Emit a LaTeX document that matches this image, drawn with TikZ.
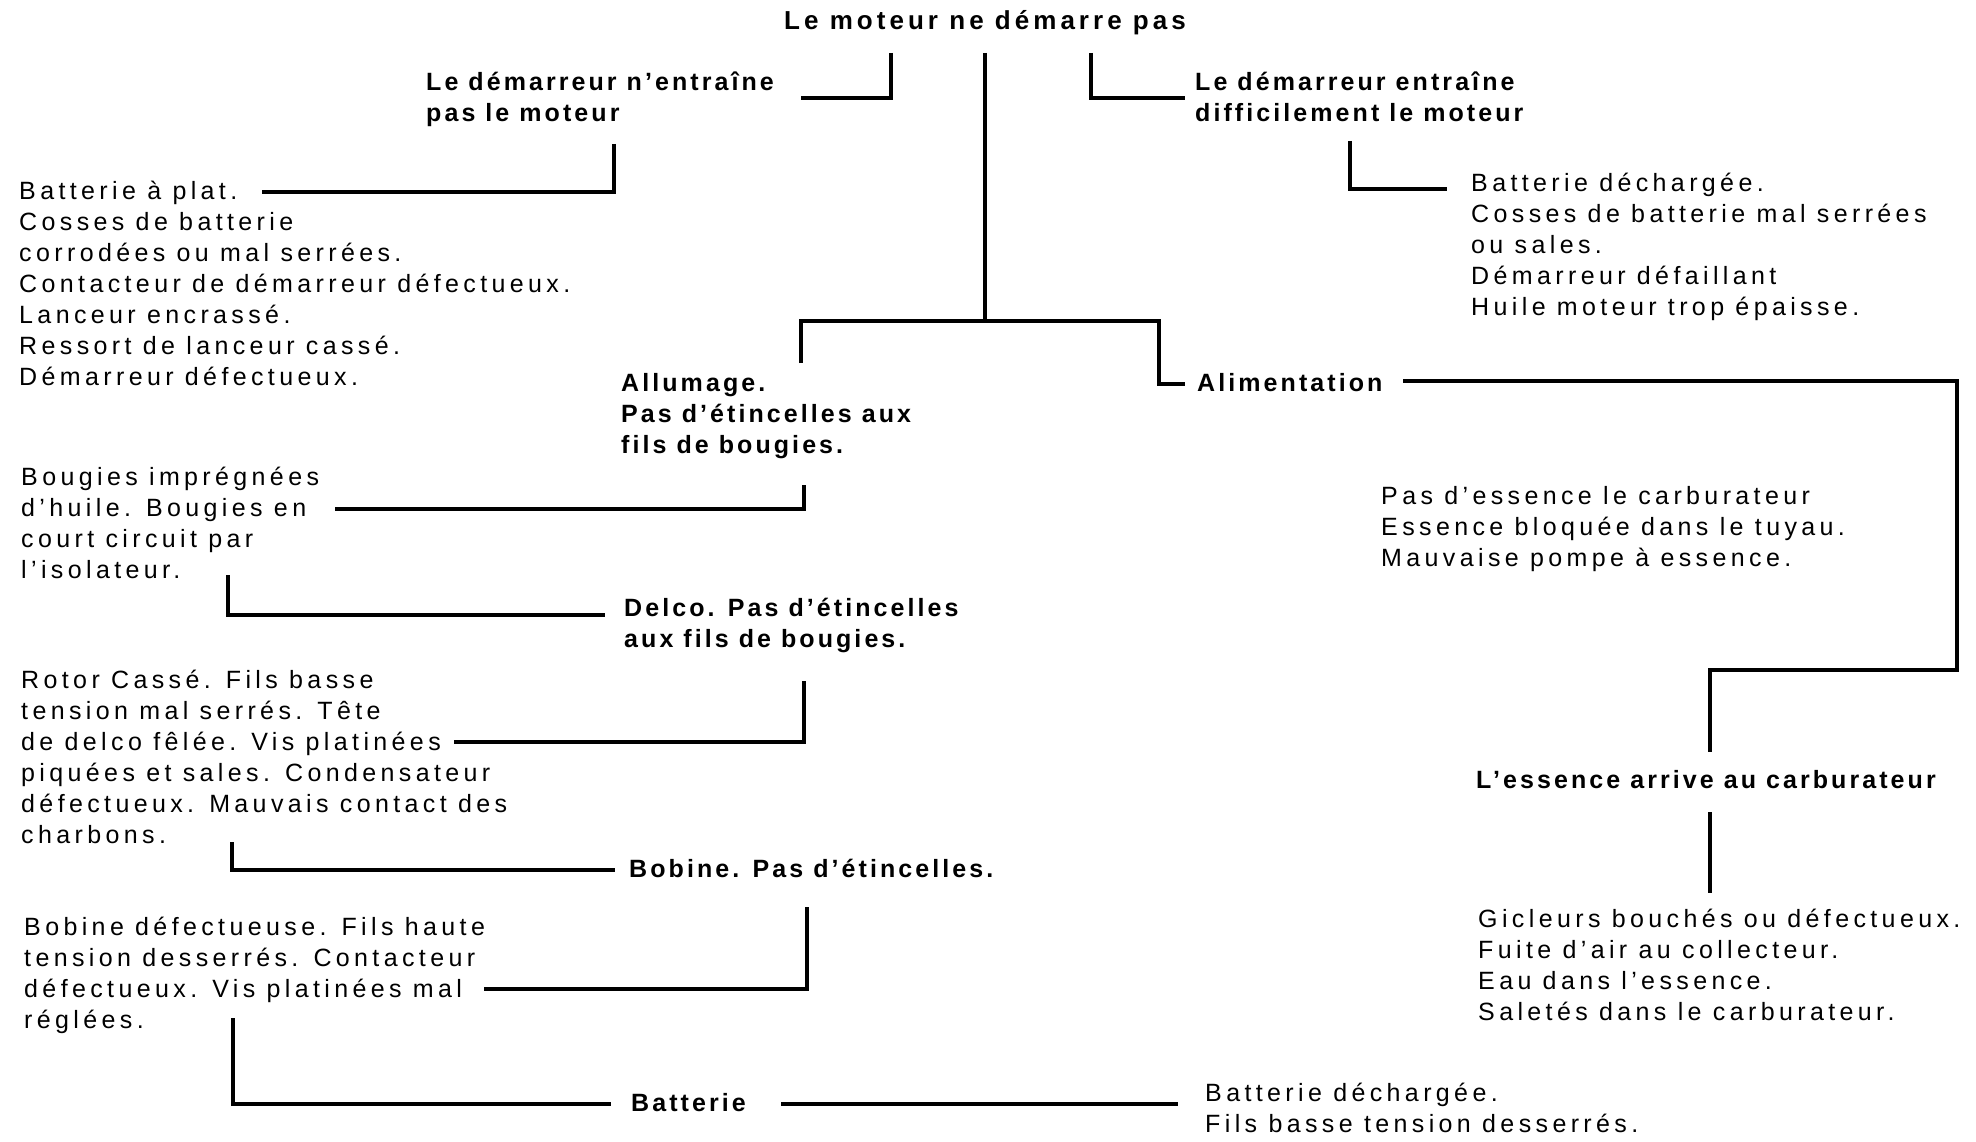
\documentclass[tikz,border=0pt]{standalone}
\usepackage{fontspec}
\setmainfont{Liberation Sans}[LetterSpace=17.5]
\newfontfamily\bdfont{Liberation Sans}[LetterSpace=12.3]
\newfontfamily\ttlfont{Liberation Sans}[LetterSpace=15.5]
\newcommand{\blk}[1]{\begin{tabular}[t]{@{}l@{}}#1\end{tabular}}
\begin{document}
\begin{tikzpicture}[x=1pt,y=-1pt,
  txt/.style={inner sep=0pt, anchor=base west, font=\fontsize{25}{31}\selectfont},
  bld/.style={inner sep=0pt, anchor=base west, font=\fontsize{25}{31}\selectfont\bdfont\bfseries},
  ttl/.style={inner sep=0pt, anchor=base west, font=\fontsize{26}{31}\selectfont\ttlfont\bfseries},
  wire/.style={line width=3.5pt, line cap=butt, line join=miter}]
\useasboundingbox (0,0) rectangle (1976,1142);
\fill[white] (0,0) rectangle (1976,1142);

% texts
\node[ttl] (title) at (784,30) {Le moteur ne démarre pas};
\node[bld] (nent) at (426,91) {\blk{Le démarreur n’entraîne\\pas le moteur}};
\node[bld] (diff) at (1195,91) {\blk{Le démarreur entraîne\\difficilement le moteur}};
\node[txt] (list1) at (19,200) {\blk{Batterie à plat.\\Cosses de batterie\\corrodées ou mal serrées.\\Contacteur de démarreur défectueux.\\Lanceur encrassé.\\Ressort de lanceur cassé.\\Démarreur défectueux.}};
\node[txt] (list2) at (1471,192) {\blk{Batterie déchargée.\\Cosses de batterie mal serrées\\ou sales.\\Démarreur défaillant\\Huile moteur trop épaisse.}};
\node[bld] (allum) at (621,391) {\blk{Allumage.\\Pas d’étincelles aux\\fils de bougies.}};
\node[bld] (alim) at (1197,391) {Alimentation};
\node[txt] (boug) at (21,485) {\blk{Bougies imprégnées\\d'huile. Bougies en\\court circuit par\\l'isolateur.}};
\node[bld] (delco) at (624,616) {\blk{Delco. Pas d’étincelles\\aux fils de bougies.}};
\node[txt] (rotor) at (21,688) {\blk{Rotor Cassé. Fils basse\\tension mal serrés. Tête\\de delco fêlée. Vis platinées\\piquées et sales. Condensateur\\défectueux. Mauvais contact des\\charbons.}};
\node[bld] (bob) at (629,877) {Bobine. Pas d’étincelles.};
\node[txt] (bobd) at (24,935) {\blk{Bobine défectueuse. Fils haute\\tension desserrés. Contacteur\\défectueux. Vis platinées mal\\réglées.}};
\node[bld] (batt) at (631,1111) {Batterie};
\node[txt] (battd) at (1205,1101) {\blk{Batterie déchargée.\\Fils basse tension desserrés.}};
\node[txt] (ess) at (1381,504) {\blk{Pas d'essence le carburateur\\Essence bloquée dans le tuyau.\\Mauvaise pompe à essence.}};
\node[bld] (arr) at (1476,788) {L’essence arrive au carburateur};
\node[txt] (gic) at (1478,927) {\blk{Gicleurs bouchés ou défectueux.\\Fuite d'air au collecteur.\\Eau dans l'essence.\\Saletés dans le carburateur.}};

% connector end points
\coordinate (m1) at (985,53);
\coordinate (m2) at (985,321);
\coordinate (aT) at (801,363);
\coordinate (jR) at (1159,321);
\coordinate (aL) at (1185,384);
\coordinate (n1) at (891,53);
\coordinate (n2) at (801,98);
\coordinate (d1) at (1091,53);
\coordinate (d2) at (1185,98);
\coordinate (l1) at (614,144);
\coordinate (l2) at (262,192);
\coordinate (r1) at (1350,141);
\coordinate (r2) at (1447,189);
\coordinate (p1) at (1403,381);
\coordinate (p2) at (1957,670);
\coordinate (p3) at (1710,752);
\coordinate (q1) at (1710,812);
\coordinate (q2) at (1710,893);
\coordinate (b1) at (804,485);
\coordinate (b2) at (335,509);
\coordinate (i1) at (228,575);
\coordinate (i2) at (605,615);
\coordinate (e1) at (804,681);
\coordinate (e2) at (454,742);
\coordinate (c1) at (232,842);
\coordinate (c2) at (615,870);
\coordinate (f1) at (807,907);
\coordinate (f2) at (484,989);
\coordinate (g1) at (233,1018);
\coordinate (g2) at (611,1104);
\coordinate (h1) at (781,1104);
\coordinate (h2) at (1178,1104);

% connectors
\draw[wire] (m1) -- (m2);
\draw[wire] (aT) |- (jR) |- (aL);
\draw[wire] (n1) |- (n2);
\draw[wire] (d1) |- (d2);
\draw[wire] (l1) |- (l2);
\draw[wire] (r1) |- (r2);
\draw[wire] (p1) -| (p2) -| (p3);
\draw[wire] (q1) -- (q2);
\draw[wire] (b1) |- (b2);
\draw[wire] (i1) |- (i2);
\draw[wire] (e1) |- (e2);
\draw[wire] (c1) |- (c2);
\draw[wire] (f1) |- (f2);
\draw[wire] (g1) |- (g2);
\draw[wire] (h1) -- (h2);
\end{tikzpicture}
\end{document}
